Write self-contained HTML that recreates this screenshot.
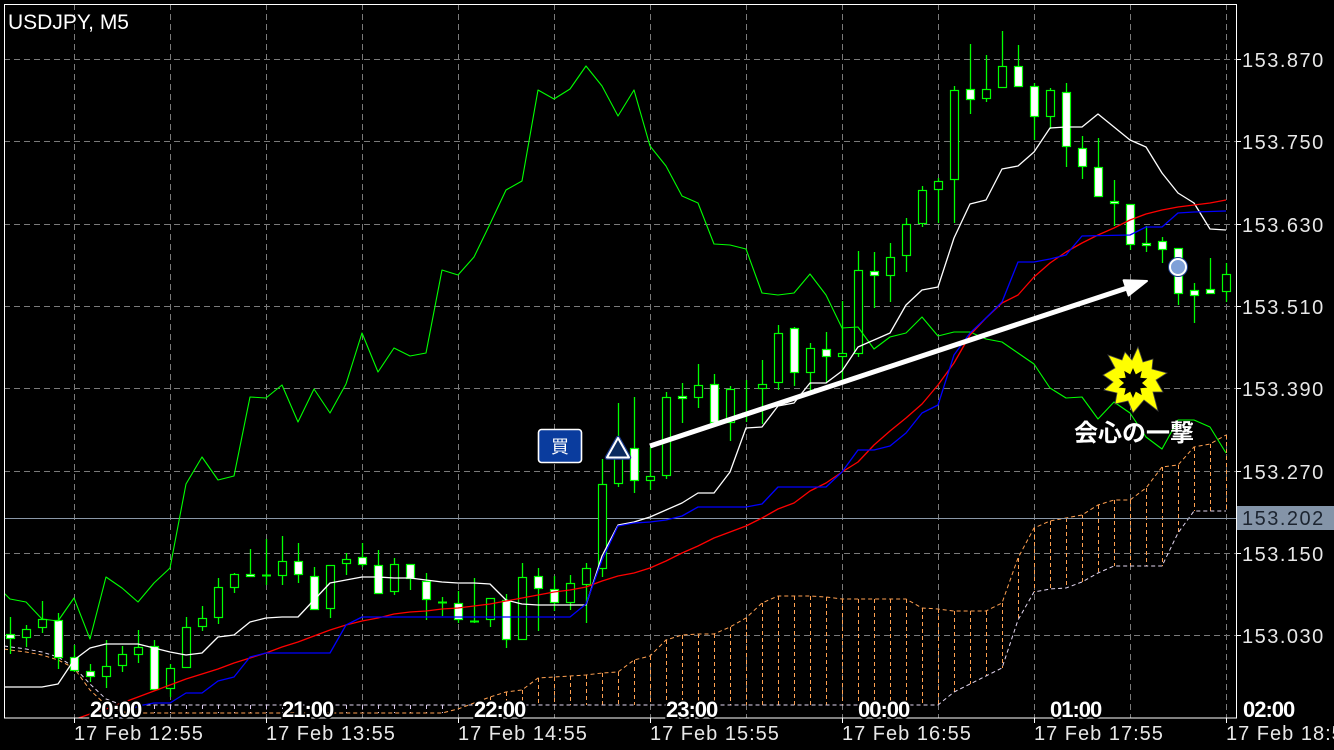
<!DOCTYPE html>
<html><head><meta charset="utf-8"><style>
html,body{margin:0;padding:0;background:#000;}
svg{display:block;}
</style></head><body>
<svg width="1334" height="750" viewBox="0 0 1334 750" xmlns="http://www.w3.org/2000/svg">
<rect width="1334" height="750" fill="#000"/>
<!-- grid -->
<g stroke="#7a7a7a" stroke-width="1" stroke-dasharray="6 4" fill="none">
<path d="M74.5 4V718M170.5 4V718M266.5 4V718M362.5 4V718M458.5 4V718M554.5 4V718M650.5 4V718M746.5 4V718M842.5 4V718M938.5 4V718M1034.5 4V718M1130.5 4V718M1226.5 4V718"/>
<path d="M4 59.5H1236M4 141.5H1236M4 224.5H1236M4 306.5H1236M4 388.5H1236M4 471.5H1236M4 553.5H1236M4 635.5H1236"/>
</g>
<!-- cloud -->
<g fill="none" stroke-width="1" stroke-dasharray="4 3">
<path stroke="#ffa050" d="M490.5 697V705M506.5 692V705M522.5 690V705M538.5 678V705M554.5 677V705M570.5 676V705M586.5 675V705M602.5 673V705M618.5 672V705M634.5 660V705M650.5 656V705M666.5 640V705M682.5 635V705M698.5 634V705M714.5 634V705M730.5 627V705M746.5 618V705M762.5 603V705M778.5 596V705M794.5 596V705M810.5 596V705M826.5 597V705M842.5 599V705M858.5 599V705M874.5 599V705M890.5 599V705M906.5 599V705M922.5 608V705M938.5 609V705M954.5 611V692M970.5 611V684M986.5 611V676M1002.5 603V668M1018.5 558V620M1034.5 528V592M1050.5 521V589M1066.5 518V588M1082.5 515V582M1098.5 505V573M1114.5 500V566M1130.5 500V566M1146.5 488V566M1162.5 467V566M1178.5 465V533M1194.5 447V511M1210.5 444V511M1226.5 435V511"/>
<path stroke="#d9c8ea" d="M138.5 705V713M154.5 705V713M170.5 705V713M186.5 705V713M202.5 705V713M218.5 705V713M234.5 705V713M250.5 705V713M266.5 705V713M282.5 705V713M298.5 705V713M314.5 705V713M330.5 705V713M346.5 705V713M362.5 705V713M378.5 705V713M394.5 705V713M410.5 705V713M426.5 705V713M442.5 705V713"/>
<polyline stroke="#ffa050" points="4,649 10,650 26,652 42,655 58,660 74,668 90,690 106,705 122,712 138,713 442,713 458,709 474,703 490,697 506,692 522,690 538,678 554,677 570,676 586,675 602,673 618,672 634,660 650,656 666,640 682,635 698,634 714,634 730,627 746,618 762,603 778,596 810,596 826,597 842,599 906,599 922,608 938,609 954,611 986,611 1002,603 1018,558 1034,528 1050,521 1066,518 1082,515 1098,505 1114,500 1130,500 1146,488 1162,467 1178,465 1194,447 1210,444 1226,435"/>
<polyline stroke="#e2d6f0" points="4,646 26,649 42,652 58,657 74,667 90,684 106,699 122,705 938,705 954,692 970,684 986,676 1002,668 1018,620 1034,592 1050,589 1066,588 1082,582 1098,573 1114,566 1162,566 1178,533 1194,511 1226,511"/>
</g>
<!-- current price line -->
<path d="M4 518.5H1236" stroke="#8a98a8" stroke-width="1"/>
<!-- wicks -->
<path fill="none" stroke="#00ff00" stroke-width="1.3" d="M10.5 617V654M26.5 625V647M42.5 601V633M58.5 613V669M74.5 645V672M90.5 664V682M106.5 640V688M122.5 646V672M138.5 630V663M154.5 640V689M170.5 664V697M186.5 617V667M202.5 606V631M218.5 578V624M234.5 573V593M250.5 549V577M266.5 539V585M282.5 536V585M298.5 543V583M314.5 567V609M330.5 565V618M346.5 553V575M362.5 543V567M378.5 550V594M394.5 558V595M410.5 564V590M426.5 573V620M442.5 597V616M458.5 591V623M474.5 578V623M490.5 598V627M506.5 594V648M522.5 563V639M538.5 568V631M554.5 576V611M570.5 575V610M586.5 563V623M602.5 459V577M618.5 403V487M634.5 397V493M650.5 447V490M666.5 392V479M682.5 383V423M698.5 364V408M714.5 374V422M730.5 386V441M746.5 380V422M762.5 360V424M778.5 325V390M794.5 327V386M810.5 343V392M826.5 332V383M842.5 301V380M858.5 251V357M874.5 252V308M890.5 243V302M906.5 218V272M922.5 186V227M938.5 178V223M954.5 86V223M970.5 44V114M986.5 55V102M1002.5 31V87M1018.5 45V86M1034.5 83V140M1050.5 88V129M1066.5 83V167M1082.5 136V179M1098.5 138V197M1114.5 180V226M1130.5 204V250M1146.5 226V252M1162.5 237V263M1178.5 248V305M1194.5 283V323M1210.5 258V293M1226.5 263V302"/>
<path fill="none" stroke="#00ff00" stroke-width="2" d="M262 575.5H271M438 602.5H447M470 621.5H479M742 413.5H751"/>
<!-- bull candles -->
<g fill="#000" stroke="#00ff00" stroke-width="1.2">
<rect x="22.5" y="629.5" width="8" height="8"/>
<rect x="38.5" y="619.5" width="8" height="8"/>
<rect x="102.5" y="666.5" width="8" height="10"/>
<rect x="118.5" y="654.5" width="8" height="11"/>
<rect x="134.5" y="647.5" width="8" height="7"/>
<rect x="166.5" y="668.5" width="8" height="20"/>
<rect x="182.5" y="627.5" width="8" height="40"/>
<rect x="198.5" y="618.5" width="8" height="8"/>
<rect x="214.5" y="587.5" width="8" height="30"/>
<rect x="230.5" y="574.5" width="8" height="13"/>
<rect x="278.5" y="561.5" width="8" height="14"/>
<rect x="326.5" y="565.5" width="8" height="43"/>
<rect x="342.5" y="559.5" width="8" height="4"/>
<rect x="390.5" y="564.5" width="8" height="27"/>
<rect x="486.5" y="598.5" width="8" height="21"/>
<rect x="518.5" y="577.5" width="8" height="62"/>
<rect x="566.5" y="583.5" width="8" height="19"/>
<rect x="582.5" y="568.5" width="8" height="16"/>
<rect x="598.5" y="484.5" width="8" height="84"/>
<rect x="614.5" y="457.5" width="8" height="26"/>
<rect x="646.5" y="476.5" width="8" height="4"/>
<rect x="662.5" y="397.5" width="8" height="78"/>
<rect x="694.5" y="385.5" width="8" height="12"/>
<rect x="726.5" y="389.5" width="8" height="33"/>
<rect x="758.5" y="384.5" width="8" height="4"/>
<rect x="774.5" y="333.5" width="8" height="49"/>
<rect x="806.5" y="348.5" width="8" height="24"/>
<rect x="838.5" y="353.5" width="8" height="3"/>
<rect x="854.5" y="270.5" width="8" height="83"/>
<rect x="886.5" y="257.5" width="8" height="18"/>
<rect x="902.5" y="224.5" width="8" height="31"/>
<rect x="918.5" y="190.5" width="8" height="33"/>
<rect x="934.5" y="181.5" width="8" height="8"/>
<rect x="950.5" y="90.5" width="8" height="89"/>
<rect x="982.5" y="89.5" width="8" height="9"/>
<rect x="998.5" y="66.5" width="8" height="21"/>
<rect x="1046.5" y="90.5" width="8" height="26"/>
<rect x="1222.5" y="274.5" width="8" height="17"/>
</g>
<!-- bear candles -->
<g fill="#fff" stroke="#00ff00" stroke-width="1.2">
<rect x="6.5" y="634.5" width="8" height="4"/>
<rect x="54.5" y="620.5" width="8" height="37"/>
<rect x="70.5" y="657.5" width="8" height="13"/>
<rect x="86.5" y="671.5" width="8" height="5"/>
<rect x="150.5" y="646.5" width="8" height="43"/>
<rect x="246.5" y="574.5" width="8" height="2"/>
<rect x="294.5" y="561.5" width="8" height="13"/>
<rect x="310.5" y="576.5" width="8" height="33"/>
<rect x="358.5" y="557.5" width="8" height="7"/>
<rect x="374.5" y="565.5" width="8" height="28"/>
<rect x="406.5" y="564.5" width="8" height="14"/>
<rect x="422.5" y="581.5" width="8" height="18"/>
<rect x="454.5" y="603.5" width="8" height="16"/>
<rect x="502.5" y="600.5" width="8" height="39"/>
<rect x="534.5" y="576.5" width="8" height="12"/>
<rect x="550.5" y="589.5" width="8" height="13"/>
<rect x="630.5" y="448.5" width="8" height="32"/>
<rect x="678.5" y="396.5" width="8" height="2"/>
<rect x="710.5" y="384.5" width="8" height="38"/>
<rect x="790.5" y="328.5" width="8" height="44"/>
<rect x="822.5" y="349.5" width="8" height="7"/>
<rect x="870.5" y="271.5" width="8" height="4"/>
<rect x="966.5" y="89.5" width="8" height="10"/>
<rect x="1014.5" y="66.5" width="8" height="20"/>
<rect x="1030.5" y="86.5" width="8" height="30"/>
<rect x="1062.5" y="92.5" width="8" height="54"/>
<rect x="1078.5" y="148.5" width="8" height="18"/>
<rect x="1094.5" y="167.5" width="8" height="29"/>
<rect x="1110.5" y="201.5" width="8" height="2"/>
<rect x="1126.5" y="204.5" width="8" height="40"/>
<rect x="1142.5" y="243.5" width="8" height="2"/>
<rect x="1158.5" y="241.5" width="8" height="8"/>
<rect x="1174.5" y="248.5" width="8" height="45"/>
<rect x="1190.5" y="290.5" width="8" height="5"/>
<rect x="1206.5" y="289.5" width="8" height="4"/>
</g>
<!-- indicator lines -->
<defs><clipPath id="c"><rect x="4" y="4" width="1232" height="714"/></clipPath></defs>
<g fill="none" stroke-width="1.3" stroke-linejoin="round" clip-path="url(#c)">
<polyline stroke="#00ff00" stroke-width="1.1" points="4,593 10,599 26,602 42,619 58,621 74,598 90,639 106,577 122,588 138,602 154,583 170,568 186,484 202,457 218,480 234,476 250,397 266,398 282,385 298,422 314,389 330,413 346,384 362,333 378,372 394,348 410,356 426,353 442,270 458,275 474,257 490,224 506,190 522,181 538,90 554,99 570,89 586,66 602,86 618,116 634,90 650,146 666,166 682,196 698,203 714,244 730,245 746,249 762,293 778,295 794,293 810,274 826,295 842,328 858,327 874,349 890,337 906,333 922,317 938,336 954,332 970,332 986,339 1002,342 1018,353 1034,364 1050,388 1066,398 1082,397 1098,419 1114,402 1130,413 1146,437 1162,449 1178,420 1194,420 1210,427 1226,453"/>
<polyline stroke="#ffffff" points="4,687 26,687 42,687 58,684 74,660 90,648 106,644 122,644 138,644 154,648 170,652 186,655 202,653 218,637 234,635 250,622 266,618 282,617 298,617 314,600 330,583 346,580 362,577 378,577 394,578 410,578 426,580 442,582 458,583 474,583 490,584 506,600 522,604 538,605 554,605 570,605 586,605 602,556 618,525 634,522 650,517 666,510 682,503 698,493 714,493 730,472 746,428 762,427 778,406 794,403 810,383 826,383 842,371 858,347 874,340 890,333 906,305 922,290 938,287 954,238 970,204 986,200 1002,169 1018,166 1034,152 1050,128 1066,127 1082,127 1098,114 1114,127 1130,140 1146,147 1162,173 1178,193 1194,203 1210,229 1226,230"/>
<polyline stroke="#ff0000" points="70,721 90,714 106,709 122,703 138,697 154,691 170,685 186,679 202,674 218,669 234,663 250,658 266,653 282,647 298,642 314,636 330,630 346,625 362,621 378,618 394,614 410,612 426,611 442,609 458,608 474,606 490,604 506,601 522,598 538,595 554,592 570,590 586,587 602,581 618,576 634,573 650,568 666,561 682,553 698,546 714,538 730,532 746,526 762,518 778,509 794,503 810,491 826,483 842,472 858,462 874,445 890,431 906,418 922,404 938,385 954,363 970,335 986,318 1002,303 1018,295 1034,277 1050,263 1066,252 1082,243 1098,235 1114,228 1130,220 1146,214 1162,210 1178,207 1194,205 1210,203 1226,200"/>
<polyline stroke="#0000ff" points="118,721 122,716 138,706 154,703 170,703 186,693 202,693 218,681 234,677 250,657 266,653 330,653 346,625 362,617 570,617 586,604 602,560 618,526 634,523 650,522 666,520 682,516 698,507 746,507 762,504 778,487 826,487 842,472 858,450 874,450 890,446 906,433 922,413 938,405 954,355 970,333 986,318 1002,302 1018,262 1034,262 1050,259 1066,255 1082,236 1130,235 1146,227 1162,227 1178,213 1194,212 1226,211"/>
</g>
<!-- frame -->
<rect x="4.5" y="4.5" width="1232" height="713.5" fill="none" stroke="#fff" stroke-width="1"/>
<path stroke="#fff" stroke-width="1" d="M1236 59.5H1241M1236 141.5H1241M1236 224.5H1241M1236 306.5H1241M1236 388.5H1241M1236 471.5H1241M1236 553.5H1241M1236 635.5H1241M74.5 718V723M266.5 718V723M458.5 718V723M650.5 718V723M842.5 718V723M1034.5 718V723M1226.5 718V723"/>
<!-- price labels -->
<g font-family="Liberation Sans, Arial, sans-serif" font-size="20" fill="#e8e8e8" letter-spacing="1.5">
<text x="1242" y="67">153.870</text>
<text x="1242" y="149">153.750</text>
<text x="1242" y="232">153.630</text>
<text x="1242" y="314">153.510</text>
<text x="1242" y="396">153.390</text>
<text x="1242" y="479">153.270</text>
<text x="1242" y="561">153.150</text>
<text x="1242" y="643">153.030</text>
</g>
<rect x="1237" y="506" width="97" height="24" fill="#8494a8"/>
<text x="1242" y="525" font-family="Liberation Sans, Arial, sans-serif" font-size="20" fill="#1c2430" letter-spacing="1.5">153.202</text>
<!-- time labels -->
<g font-family="Liberation Sans, Arial, sans-serif" font-size="20" fill="#e8e8e8" letter-spacing="1">
<text x="74" y="740">17 Feb 12:55</text>
<text x="266" y="740">17 Feb 13:55</text>
<text x="458" y="740">17 Feb 14:55</text>
<text x="650" y="740">17 Feb 15:55</text>
<text x="842" y="740">17 Feb 16:55</text>
<text x="1034" y="740">17 Feb 17:55</text>
<text x="1226" y="740">17 Feb 18:55</text>
</g>
<text x="8" y="29" font-family="Liberation Sans, Arial, sans-serif" font-size="21" fill="#fff">USDJPY, M5</text>
<!-- annotations -->
<line x1="650" y1="446" x2="1130" y2="287" stroke="#fff" stroke-width="5"/>
<polygon points="1147,281 1128.6,295.5 1123.6,280.3" fill="#fff" stroke="#fff" stroke-width="2" stroke-linejoin="round"/>
<rect x="538.5" y="429.5" width="43" height="33" rx="3" fill="#0a3c9e" stroke="#fff" stroke-width="1.6"/>
<text x="560" y="453" text-anchor="middle" font-family="Liberation Sans, Noto Sans CJK JP, sans-serif" font-size="18" fill="#fff">買</text>
<polygon points="618,438 607,457.5 629,457.5" fill="#0b2a5e" stroke="#1a3a8a" stroke-width="4.5" stroke-linejoin="round"/>
<polygon points="618,438 607,457.5 629,457.5" fill="#0b2a5e" stroke="#fff" stroke-width="2" stroke-linejoin="round"/>
<circle cx="1178" cy="267" r="8" fill="#7fa0d8" stroke="#1a3a8a" stroke-width="4"/>
<circle cx="1178" cy="267" r="8" fill="#7fa0d8" stroke="#fff" stroke-width="2"/>
<polygon points="1138,347 1143,362 1153,359 1152,369 1167,373 1156,380 1163,392 1153,392 1158,411 1144,400 1133,413 1128,401 1115,404 1117,393 1104,390 1113,382 1103,375 1115,368 1108,355 1122,360 1125,352 1132,360" fill="#ffff00" stroke="#444" stroke-width="0.8"/>
<polygon points="1133,368 1135.8,374.4 1141.8,370.9 1140.3,377.7 1147.3,378.4 1142,383 1147.3,387.6 1140.3,388.3 1141.8,395.1 1135.8,391.6 1133,398 1130.2,391.6 1124.2,395.1 1125.7,388.3 1118.7,387.6 1124,383 1118.7,378.4 1125.7,377.7 1124.2,370.9 1130.2,374.4" fill="#000"/>
<text x="1134" y="441" text-anchor="middle" font-family="Liberation Sans, Noto Sans CJK JP, sans-serif" font-size="24" font-weight="700" fill="#fff">会心の一撃</text>
<!-- hour labels -->
<g font-family="Liberation Sans, Arial, sans-serif" font-size="22" font-weight="700" fill="#fff" letter-spacing="-1" stroke="#000" stroke-width="3" paint-order="stroke">
<text x="90" y="717">20:00</text>
<text x="282" y="717">21:00</text>
<text x="474" y="717">22:00</text>
<text x="666" y="717">23:00</text>
<text x="858" y="717">00:00</text>
<text x="1050" y="717">01:00</text>
<text x="1243" y="717">02:00</text>
</g>
</svg>
</body></html>
